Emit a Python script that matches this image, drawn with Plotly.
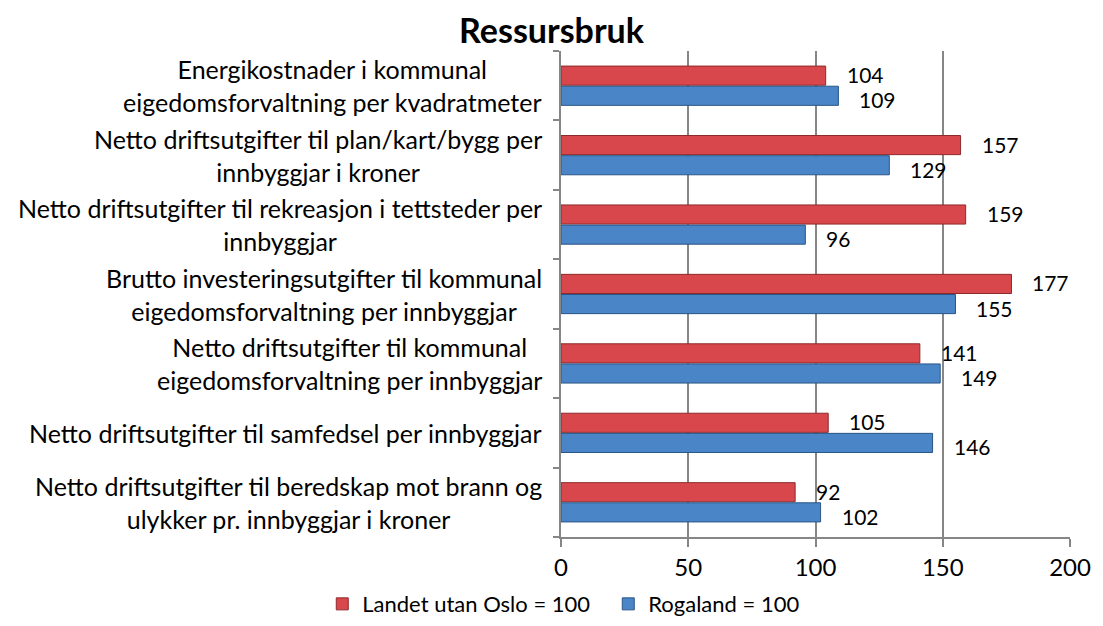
import plotly.graph_objects as go

categories = [
    "Energikostnader i kommunal<br>eigedomsforvaltning per kvadratmeter",
    "Netto driftsutgifter til plan/kart/bygg per<br>innbyggjar i kroner",
    "Netto driftsutgifter til rekreasjon i tettsteder per<br>innbyggjar",
    "Brutto investeringsutgifter til kommunal<br>eigedomsforvaltning per innbyggjar",
    "Netto driftsutgifter til kommunal<br>eigedomsforvaltning per innbyggjar",
    "Netto driftsutgifter til samfedsel per innbyggjar",
    "Netto driftsutgifter til beredskap mot brann og<br>ulykker pr. innbyggjar i kroner",
]
landet = [104, 157, 159, 177, 141, 105, 92]
rogaland = [109, 129, 96, 155, 149, 146, 102]
x_ticks = [0, 50, 100, 150, 200]

FONT = "Lato"
ids = list(range(len(categories)))
# page body has an 8px margin, so the figure is a bit smaller than the window
W, H = 1087, 610

fig = go.Figure()
fig.add_trace(go.Bar(
    y=ids, x=landet, orientation="h", name="Landet utan Oslo = 100",
    marker=dict(color="#D8474B", line=dict(color="#8E2A2C", width=1)),
))
fig.add_trace(go.Bar(
    y=ids, x=rogaland, orientation="h", name="Rogaland = 100",
    marker=dict(color="#4A85C8", line=dict(color="#2A5586", width=1)),
))

bar_off = 0.145
for i in ids:
    # value labels a little to the right of the bar ends
    for v, off, ys in ((landet[i], -bar_off, 1), (rogaland[i], bar_off, -4)):
        fig.add_annotation(
            x=v, y=i + off, text=str(v), showarrow=False,
            xanchor="left", xshift=19, yshift=ys,
            font=dict(family=FONT, size=21, color="#000000"),
        )
    # category labels: right aligned block, lines centred
    fig.add_annotation(
        x=0, xref="paper", y=i, yref="y", text=categories[i], showarrow=False,
        xanchor="right", xshift=-17, align="center",
        font=dict(family=FONT, size=25, color="#000000"),
    )

fig.update_layout(
    width=W, height=H,
    paper_bgcolor="white", plot_bgcolor="white",
    margin=dict(l=553, r=25, t=43, b=81, autoexpand=False),
    barmode="group", bargap=0.42, bargroupgap=0.05,
    title=dict(text="<b>Ressursbruk</b>", x=0.5, xanchor="center",
               y=0.962, yanchor="middle",
               font=dict(family=FONT, size=34, color="#000000")),
    font=dict(family=FONT, color="#000000"),
    legend=dict(orientation="h", x=-0.469, xanchor="left", y=-0.138, yanchor="middle",
                font=dict(family=FONT, size=22), traceorder="normal",
                entrywidth=241),
    showlegend=True,
)
fig.update_xaxes(
    range=[0, 200], tickvals=x_ticks, showgrid=True, gridcolor="#868686", gridwidth=1.5,
    showline=True, linecolor="#868686", linewidth=1.5,
    ticks="outside", ticklen=8, tickcolor="#868686", tickwidth=1.5,
    tickfont=dict(family=FONT, size=24), zeroline=False,
)
fig.update_yaxes(
    type="linear", range=[6.5, -0.5], showticklabels=False, showgrid=False,
    showline=True, linecolor="#868686", linewidth=1.5, zeroline=False,
    tickvals=[i + 0.5 for i in range(-1, len(categories))],
    ticks="outside", ticklen=6, tickcolor="#868686", tickwidth=1.5,
)

fig.write_html("out.html")
